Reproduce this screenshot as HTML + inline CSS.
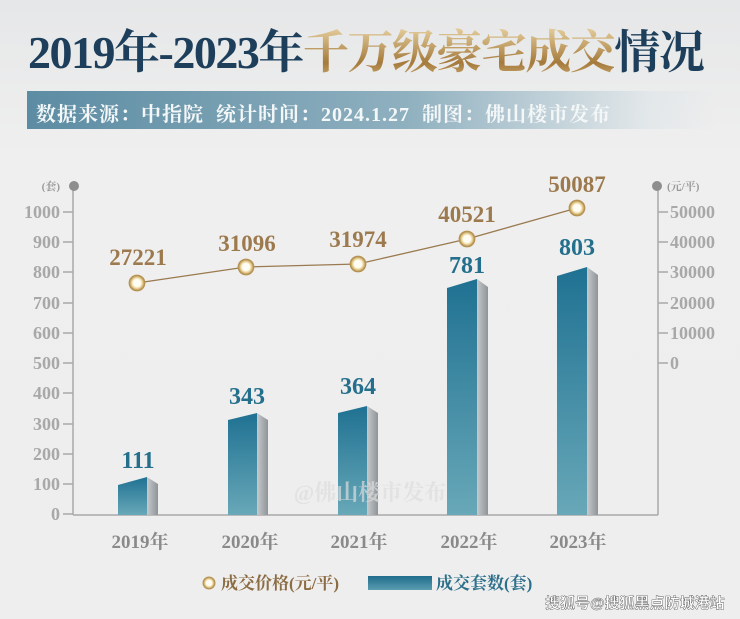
<!DOCTYPE html>
<html><head><meta charset="utf-8"><style>
body{margin:0;width:740px;height:619px;overflow:hidden;background:linear-gradient(180deg,#e6e7e8 0%,#efefef 25%,#eeeeee 100%);font-family:"Liberation Serif","Noto Serif CJK SC",serif;}
.t{position:absolute;left:28px;top:16px;font-size:46px;font-weight:bold;color:#1d3f5b;white-space:nowrap;letter-spacing:-1.5px;}
.g{background:linear-gradient(180deg,#e6cf9d,#a57a3c 70%,#c9a56a);-webkit-background-clip:text;color:transparent;}
.b{position:absolute;left:27px;top:91px;width:690px;height:38px;background:linear-gradient(90deg,#5c8ca3 0%,#8fb0bf 55%,rgba(220,228,232,0.6) 90%,rgba(238,238,238,0) 100%);}
.b span{position:absolute;left:9px;top:7px;font-size:20px;font-weight:bold;color:#f4f7f8;white-space:nowrap;letter-spacing:1px;}
</style></head><body>
<div class="t">2019年-2023年<span class="g">千万级豪宅成交</span>情况</div>
<div class="b"><span>数据来源：中指院 &nbsp;统计时间：2024.1.27 &nbsp;制图：佛山楼市发布</span></div>
<svg width="740" height="619" style="position:absolute;left:0;top:0" font-family="Liberation Serif,Noto Serif CJK SC,serif" font-weight="bold">
<defs>
<linearGradient id="bar" x1="0" y1="0" x2="0" y2="1"><stop offset="0" stop-color="#1f7192"/><stop offset="1" stop-color="#68a8b8"/></linearGradient>
<linearGradient id="side" x1="0" y1="0" x2="1" y2="0"><stop offset="0" stop-color="#c6c9cb"/><stop offset="1" stop-color="#8f9498"/></linearGradient>
<radialGradient id="dot"><stop offset="0.45" stop-color="#fffdf3"/><stop offset="0.7" stop-color="#e8cf90"/><stop offset="1" stop-color="#a07c3c"/></radialGradient>
<linearGradient id="leg" x1="0" y1="0" x2="0" y2="1"><stop offset="0" stop-color="#1f6c8c"/><stop offset="1" stop-color="#5a9db0"/></linearGradient>
</defs>
<g stroke="#a9a9a9" stroke-width="1.5" fill="none">
<line x1="73" y1="186" x2="73" y2="515"/><line x1="73" y1="515" x2="658" y2="515"/><line x1="658" y1="186" x2="658" y2="515"/>
<path d="M63 212h10M63 242h10M63 272h10M63 303h10M63 333h10M63 363h10M63 393h10M63 424h10M63 454h10M63 484h10M63 514h10"/>
<path d="M658 212h10M658 242h10M658 272h10M658 303h10M658 333h10M658 363h10"/>
</g>
<circle cx="74" cy="186" r="5" fill="#8e8e8e"/><circle cx="657" cy="186" r="5" fill="#8e8e8e"/>
<g fill="#a8a8a8" font-size="18" text-anchor="end">
<text x="60" y="218">1000</text><text x="60" y="248">900</text><text x="60" y="278">800</text><text x="60" y="309">700</text><text x="60" y="339">600</text><text x="60" y="369">500</text><text x="60" y="399">400</text><text x="60" y="430">300</text><text x="60" y="460">200</text><text x="60" y="490">100</text><text x="60" y="520">0</text>
</g>
<g fill="#a8a8a8" font-size="18">
<text x="670" y="218">50000</text><text x="670" y="248">40000</text><text x="670" y="278">30000</text><text x="670" y="309">20000</text><text x="670" y="339">10000</text><text x="670" y="369">0</text>
</g>
<text x="60" y="190" font-size="11" fill="#999" text-anchor="end">(套)</text>
<text x="667" y="190" font-size="11" fill="#999">(元/平)</text>
<g>
<polygon points="118,485 147,477 147,515 118,515" fill="url(#bar)"/><polygon points="147,477 158,484 158,515 147,515" fill="url(#side)"/>
<polygon points="228,420 257,413 257,515 228,515" fill="url(#bar)"/><polygon points="257,413 268,420 268,515 257,515" fill="url(#side)"/>
<polygon points="338,413 367,406 367,515 338,515" fill="url(#bar)"/><polygon points="367,406 378,413 378,515 367,515" fill="url(#side)"/>
<polygon points="447,288 477,279 477,515 447,515" fill="url(#bar)"/><polygon points="477,279 488,287 488,515 477,515" fill="url(#side)"/>
<polygon points="557,276 587,267 587,515 557,515" fill="url(#bar)"/><polygon points="587,267 598,275 598,515 587,515" fill="url(#side)"/>
</g>
<g fill="#246f8c" font-size="24" text-anchor="middle">
<text x="138" y="468">111</text><text x="247" y="404">343</text><text x="358" y="394">364</text><text x="467" y="273">781</text><text x="577" y="255">803</text>
</g>
<polyline points="137,283 246,267 358,264 467,239 577,208" fill="none" stroke="#9a7a4f" stroke-width="1.3"/>
<g fill="url(#dot)" stroke="#b89558" stroke-width="0.8">
<circle cx="137" cy="283" r="8"/><circle cx="246" cy="267" r="8"/><circle cx="358" cy="264" r="8"/><circle cx="467" cy="239" r="8"/><circle cx="577" cy="208" r="8"/>
</g>
<g fill="#9c7a4e" font-size="23" text-anchor="middle">
<text x="138" y="265">27221</text><text x="247" y="251">31096</text><text x="358" y="247">31974</text><text x="467" y="222">40521</text><text x="577" y="192">50087</text>
</g>
<g fill="#8a8a8a" font-size="19" text-anchor="middle">
<text x="140" y="548">2019年</text><text x="250" y="548">2020年</text><text x="359" y="548">2021年</text><text x="469" y="548">2022年</text><text x="578" y="548">2023年</text>
</g>
<circle cx="209" cy="583" r="6" fill="url(#dot)" stroke="#b89558"/>
<text x="221" y="589" font-size="17" fill="#8c6c44">成交价格(元/平)</text>
<rect x="368" y="576" width="64" height="14" fill="url(#leg)"/>
<text x="436" y="589" font-size="17" fill="#2c6f8a">成交套数(套)</text>
<text x="545" y="608" font-size="15" fill="#fff" stroke="#555" stroke-width="0.4" font-family="Liberation Sans,Noto Sans CJK SC,sans-serif">搜狐号@搜狐黑点防城港站</text>
<text x="370" y="500" font-size="22" fill="#ddd" opacity="0.7" text-anchor="middle">@佛山楼市发布</text>
</svg>
</body></html>
